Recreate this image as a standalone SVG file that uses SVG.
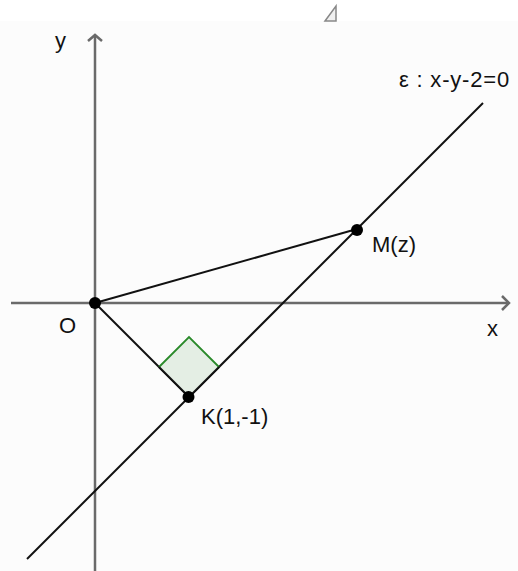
<svg xmlns="http://www.w3.org/2000/svg" width="518" height="571" viewBox="0 0 518 571">
  <style>
    .lbl { font-family: "Liberation Sans", Arial, sans-serif; font-size: 22px; fill: #111; }
    .axis { stroke: #6a6a6a; stroke-width: 2.5; fill: none; }
    .ln { stroke: #111; stroke-width: 2; fill: none; }
    .pt { fill: #000; }
  </style>
  <rect x="0" y="0" width="518" height="571" fill="#ffffff"/>
  <rect x="0" y="21" width="518" height="550" fill="#fcfcfc"/>
  <path d="M325,21 L336,6 L336,21 Z" fill="#f0f0f0" stroke="#888" stroke-width="1.5"/>

  <g id="axes">
    <line class="axis" x1="11" y1="303" x2="509" y2="303"/>
    <path class="axis" d="M502,296 L509,303 L502,310" stroke-width="2"/>
    <line class="axis" x1="95" y1="571" x2="95" y2="35"/>
    <path class="axis" d="M88,41 L95,35 L102,41" stroke-width="2"/>
    <text class="lbl" x="487" y="336">x</text>
    <text class="lbl" x="55" y="48">y</text>
  </g>

  <g id="connectors">
    <line id="line-e" class="ln" x1="27" y1="559" x2="483" y2="103"/>
    <line id="OM" class="ln" x1="95" y1="303" x2="357" y2="229"/>
    <line id="OK" class="ln" x1="95" y1="303" x2="189" y2="397"/>
  </g>

  <g id="right-angle">
    <path d="M189,397 L159,367 L189,337 L219,367 Z" fill="#e4eee4" stroke="none"/>
    <path d="M159,367 L189,337 L219,367" fill="none" stroke="#2a8a2a" stroke-width="1.8"/>
    <line class="ln" x1="159" y1="367" x2="189" y2="397"/>
    <line class="ln" x1="189" y1="397" x2="219" y2="367"/>
  </g>

  <g id="line-label">
    <text class="lbl" x="399" y="87" letter-spacing="0.8">ε : x-y-2=0</text>
  </g>

  <g id="node-O">
    <circle class="pt" cx="95" cy="303" r="6"/>
    <text class="lbl" x="59" y="333">O</text>
  </g>

  <g id="node-K">
    <circle class="pt" cx="188.5" cy="397" r="6"/>
    <text class="lbl" x="201" y="424">K(1,-1)</text>
  </g>

  <g id="node-M">
    <circle class="pt" cx="357" cy="230" r="6"/>
    <text class="lbl" x="372" y="252">M(z)</text>
  </g>
</svg>
